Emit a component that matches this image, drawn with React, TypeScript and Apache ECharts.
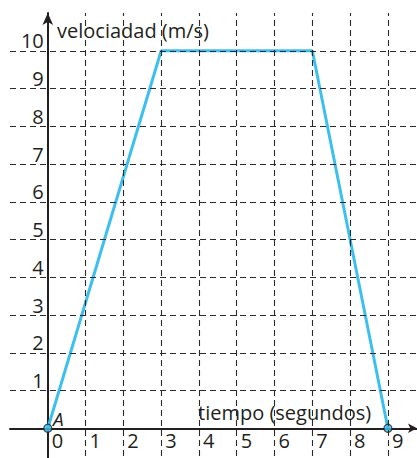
import React, { useEffect, useRef } from "react";
import * as echarts from "echarts";

const xTicks = [1, 2, 3, 4, 5, 6, 7, 8, 9];
const yTicks = [1, 2, 3, 4, 5, 6, 7, 8, 9, 10];
const points: [number, number][] = [
  [0, 0],
  [3, 10],
  [7, 10],
  [9, 0],
];
const yTitle = "velociadad (m/s)";
const xTitle = "tiempo (segundos)";
const pointLabel = "A";

const FONT = "'Open Sans', sans-serif";
const INK = "#231f20";
const BLUE = "#3dbfef";

const X_MIN = -1;
const X_MAX = 9.77;
const Y_MIN = -1;
const Y_MAX = 11;
const GRID_W = 407;
const GRID_H = 453;

export default function App() {
  const ref = useRef<HTMLDivElement>(null);
  useEffect(() => {
    if (!ref.current) return;
    const chart = echarts.init(ref.current, undefined, { renderer: "svg" });
    const xUnit = GRID_W / (X_MAX - X_MIN);
    const yUnit = GRID_H / (Y_MAX - Y_MIN);
    chart.setOption({
      animation: false,
      backgroundColor: "#ffffff",
      grid: {
        left: 10,
        top: 13,
        width: GRID_W,
        height: GRID_H,
        containLabel: false,
        outerBoundsMode: "none",
      },
      xAxis: {
        type: "value",
        position: "bottom",
        min: X_MIN,
        max: X_MAX,
        interval: 1,
        offset: -(0 - Y_MIN) * yUnit,
        axisLine: {
          show: true,
          onZero: false,
          lineStyle: { color: INK, width: 2 },
          symbol: ["none", "arrow"],
          symbolSize: [7, 9],
        },
        axisTick: { show: false },
        splitLine: { show: false },
        axisLabel: {
          margin: 3,
          align: "left",
          verticalAlign: "top",
          lineHeight: 18,
          padding: [0, 0, 0, 4],
          fontFamily: FONT,
          fontSize: 20,
          color: INK,
          formatter: (v: number) => (v >= 0 && v <= 9 ? String(v) : ""),
        },
      },
      yAxis: {
        type: "value",
        position: "left",
        min: Y_MIN,
        max: Y_MAX,
        interval: 1,
        offset: -(0 - X_MIN) * xUnit,
        axisLine: {
          show: true,
          onZero: false,
          lineStyle: { color: INK, width: 2 },
          symbol: ["none", "arrow"],
          symbolSize: [8, 12],
        },
        axisTick: { show: false },
        splitLine: { show: false },
        axisLabel: {
          margin: 4,
          align: "right",
          verticalAlign: "bottom",
          lineHeight: 20,
          fontFamily: FONT,
          fontSize: 20,
          color: INK,
          formatter: (v: number) => (v >= 1 && v <= 10 ? String(v) : ""),
        },
      },
      graphic: [
        {
          type: "text",
          left: 57,
          top: 20,
          silent: true,
          style: { text: yTitle, font: `20px ${FONT}`, fill: INK },
        },
        {
          type: "text",
          left: 198,
          top: 402,
          silent: true,
          style: { text: xTitle, font: `20px ${FONT}`, fill: INK },
        },
        {
          type: "text",
          left: 53,
          top: 409,
          silent: true,
          style: {
            text: pointLabel,
            font: `italic 19px ${FONT}`,
            lineHeight: 19,
            fill: INK,
          },
        },
      ],
      series: [
        {
          type: "line",
          data: [],
          z: 1,
          silent: true,
          markLine: {
            silent: true,
            symbol: ["none", "none"],
            label: { show: false },
            lineStyle: { color: "#2a2a2a", width: 1.1, type: [6, 4] },
            data: [
              ...xTicks.map((v) => ({ xAxis: v })),
              ...yTicks.map((v) => ({ yAxis: v })),
            ],
          },
        },
        {
          type: "line",
          data: points,
          z: 3,
          showSymbol: false,
          lineStyle: { color: BLUE, width: 3 },
          silent: true,
        },
        {
          type: "scatter",
          z: 4,
          data: [points[0], points[points.length - 1]],
          symbolSize: 8,
          itemStyle: { color: BLUE, borderColor: INK, borderWidth: 1.2 },
          silent: true,
        },
      ],
    });
    return () => chart.dispose();
  }, []);
  return <div ref={ref} style={{ width: 417, height: 458, position: "fixed", left: 0, top: 0 }} />;
}
